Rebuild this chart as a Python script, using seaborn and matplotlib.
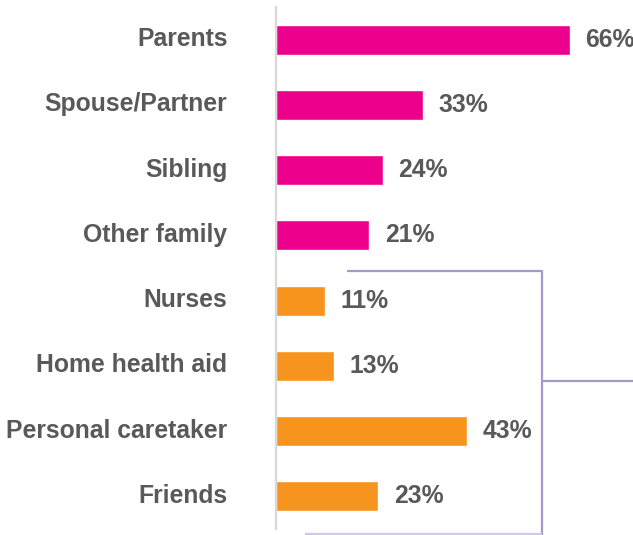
import pandas as pd
import seaborn as sns
import matplotlib.pyplot as plt
from matplotlib.lines import Line2D
from matplotlib.transforms import ScaledTranslation

# Who provides care, share of respondents (%)
categories = ["Parents", "Spouse/Partner", "Sibling", "Other family",
              "Nurses", "Home health aid", "Personal caretaker", "Friends"]
values = [66, 33, 24, 21, 11, 13, 43, 23]
groups = ["Family", "Family", "Family", "Family",
          "Non-family", "Non-family", "Non-family", "Non-family"]

palette = {"Family": "#EC008C", "Non-family": "#F7941D"}
text_color = "#595959"
bracket_color = "#A59ACA"

df = pd.DataFrame({"category": categories, "value": values, "group": groups})

sns.set_theme(style="white")
plt.rcParams["font.family"] = ["Liberation Sans", "DejaVu Sans"]

W, H = 633, 535
fig = plt.figure(figsize=(W / 100, H / 100), dpi=100)
px_per_pct = 4.45
ax = fig.add_axes([276 / W, 1 - 529 / H, (W - 276) / W, 522 / H])

sns.barplot(data=df, y="category", x="value", hue="group", palette=palette,
            orient="h", width=0.46, dodge=False, legend=False,
            saturation=1, ax=ax)

ax.set_xlim(0, (W - 276) / px_per_pct)
ax.set_ylim(7.5, -0.5)
ax.set_xticks([])
ax.set_xlabel("")
ax.set_ylabel("")
for side in ["top", "right", "bottom"]:
    ax.spines[side].set_visible(False)
ax.spines["left"].set_color("#D9D9D9")
ax.spines["left"].set_linewidth(1.6)

ax.tick_params(axis="y", length=0, pad=35)
lift = ScaledTranslation(0, 3 / 100, fig.dpi_scale_trans)
for lbl in ax.get_yticklabels():
    lbl.set_fontsize(17.8)
    lbl.set_fontweight("bold")
    lbl.set_color(text_color)
    lbl.set_transform(lbl.get_transform() + lift)

# value labels at the end of each bar
for i, v in enumerate(values):
    ax.annotate(f"{v}%", xy=(v, i), xytext=(11, 0), textcoords="offset points",
                va="center", ha="left", fontsize=17.8, fontweight="bold",
                color=text_color)

# bracket grouping the non-family caregivers
def fig_line(xs, ys, color=bracket_color, lw=1.6):
    fig.add_artist(Line2D([x / W for x in xs], [1 - y / H for y in ys],
                          transform=fig.transFigure, color=color, lw=lw,
                          solid_capstyle="butt"))

fig_line([347, 542], [270.5, 270.5])
fig_line([542, 542], [269.7, 535])
fig_line([542, 633], [380.5, 380.5])
fig_line([305, 542], [533.5, 533.5], color="#CFC9E4")

fig.savefig("out.png", dpi=100)
